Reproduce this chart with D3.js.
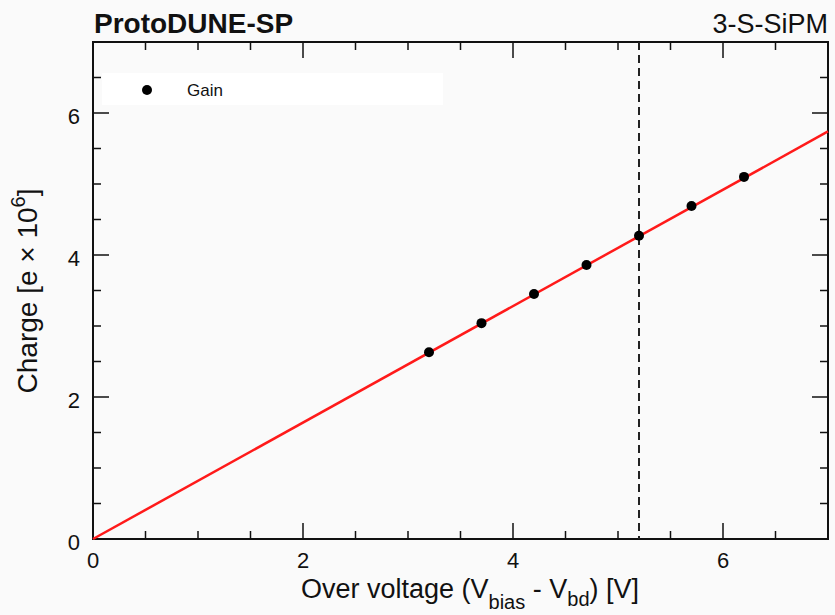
<!DOCTYPE html>
<html>
<head>
<meta charset="utf-8">
<script src="https://cdn.jsdelivr.net/npm/d3@7"></script>
<style>
  body { margin: 0; background: #fafafa; }
  svg { display: block; font-family: "Liberation Sans", Arial, sans-serif; }
</style>
</head>
<body>
<div id="chart"></div>
<script>
// Gain measurement points (over voltage in V, charge in 1e6 electrons)
const overVoltage = [3.2, 3.7, 4.2, 4.7, 5.2, 5.7, 6.2];
const charge = [2.63, 3.04, 3.45, 3.86, 4.27, 4.69, 5.10];

// Linear fit through origin, drawn across the axis range
const fitX = [0, 7];
const fitY = [0, 5.74];

// Operating point marker
const operatingVoltage = 5.2;

const xTicks = [0, 2, 4, 6];
const yTicks = [0, 2, 4, 6];

const CHART_CONFIG = {
  width: 835,
  height: 615,
  margin: { top: 42, right: 7, bottom: 76, left: 93 },
  majorTick: 16,
  minorTick: 8
};

const { width, height, margin } = CHART_CONFIG;
const chartWidth = width - margin.left - margin.right;
const chartHeight = height - margin.top - margin.bottom;

const svg = d3.select("#chart").append("svg")
  .attr("width", width)
  .attr("height", height);

svg.append("rect")
  .attr("width", width)
  .attr("height", height)
  .attr("fill", "#fafafa");

const g = svg.append("g")
  .attr("transform", `translate(${margin.left},${margin.top})`);

const xScale = d3.scaleLinear().domain([0, 7]).range([0, chartWidth]);
const yScale = d3.scaleLinear().domain([0, 7]).range([chartHeight, 0]);

// minor ticks every 0.5
const minorX = d3.range(0, 7.001, 0.5).filter(v => !xTicks.includes(v));
const minorY = d3.range(0, 7.001, 0.5).filter(v => !yTicks.includes(v));

const tickGroup = g.append("g").attr("stroke", "#111").attr("stroke-width", 1.5);

// bottom and top ticks
[[xTicks, CHART_CONFIG.majorTick], [minorX, CHART_CONFIG.minorTick]].forEach(([vals, len]) => {
  vals.forEach(v => {
    tickGroup.append("line")
      .attr("x1", xScale(v)).attr("x2", xScale(v))
      .attr("y1", chartHeight).attr("y2", chartHeight - len);
    tickGroup.append("line")
      .attr("x1", xScale(v)).attr("x2", xScale(v))
      .attr("y1", 0).attr("y2", len);
  });
});

// left and right ticks
[[yTicks, CHART_CONFIG.majorTick], [minorY, CHART_CONFIG.minorTick]].forEach(([vals, len]) => {
  vals.forEach(v => {
    tickGroup.append("line")
      .attr("x1", 0).attr("x2", len)
      .attr("y1", yScale(v)).attr("y2", yScale(v));
    tickGroup.append("line")
      .attr("x1", chartWidth).attr("x2", chartWidth - len)
      .attr("y1", yScale(v)).attr("y2", yScale(v));
  });
});

// frame
g.append("rect")
  .attr("width", chartWidth)
  .attr("height", chartHeight)
  .attr("fill", "none")
  .attr("stroke", "#111")
  .attr("stroke-width", 2);

// tick labels
g.selectAll(".x-label")
  .data(xTicks)
  .enter()
  .append("text")
  .attr("x", d => xScale(d))
  .attr("y", chartHeight + 29)
  .attr("text-anchor", "middle")
  .style("font-size", "22px")
  .attr("fill", "#111")
  .text(d => d);

g.selectAll(".y-label")
  .data(yTicks)
  .enter()
  .append("text")
  .attr("x", -13)
  .attr("y", d => yScale(d))
  .attr("dy", "0.5em")
  .attr("text-anchor", "end")
  .style("font-size", "22px")
  .attr("fill", "#111")
  .text(d => d);

// legend
const legend = g.append("g").attr("class", "legend");
legend.append("rect")
  .attr("x", 9).attr("y", 31)
  .attr("width", 341).attr("height", 32)
  .attr("fill", "#ffffff");
legend.append("circle")
  .attr("cx", 54).attr("cy", 48)
  .attr("r", 5)
  .attr("fill", "#000");
legend.append("text")
  .attr("x", 94).attr("y", 48)
  .attr("dy", "0.35em")
  .style("font-size", "17px")
  .attr("fill", "#111")
  .text("Gain");

// operating voltage dashed line
g.append("line")
  .attr("x1", xScale(operatingVoltage)).attr("x2", xScale(operatingVoltage))
  .attr("y1", 0).attr("y2", chartHeight)
  .attr("stroke", "#222")
  .attr("stroke-width", 2)
  .attr("stroke-dasharray", "8,5");

// fit line
const fitData = fitX.map((x, i) => ({ x, y: fitY[i] }));
g.append("path")
  .datum(fitData)
  .attr("fill", "none")
  .attr("stroke", "#ff1a1a")
  .attr("stroke-width", 2.5)
  .attr("d", d3.line().x(d => xScale(d.x)).y(d => yScale(d.y)));

// points
const points = overVoltage.map((x, i) => ({ x, y: charge[i] }));
g.selectAll(".point")
  .data(points)
  .enter()
  .append("circle")
  .attr("cx", d => xScale(d.x))
  .attr("cy", d => yScale(d.y))
  .attr("r", 5)
  .attr("fill", "#000");

// titles
svg.append("text")
  .attr("x", margin.left + 1)
  .attr("y", 33)
  .style("font-size", "28px")
  .style("font-weight", "bold")
  .attr("fill", "#111")
  .text("ProtoDUNE-SP");

svg.append("text")
  .attr("x", width - margin.right)
  .attr("y", 33)
  .attr("text-anchor", "end")
  .style("font-size", "27px")
  .attr("fill", "#111")
  .text("3-S-SiPM");

// axis titles
const xTitle = svg.append("text")
  .attr("x", 470)
  .attr("y", 598)
  .attr("text-anchor", "middle")
  .style("font-size", "27px")
  .attr("fill", "#111");
xTitle.append("tspan").text("Over voltage (V");
xTitle.append("tspan").attr("dy", 11).style("font-size", "20px").text("bias");
xTitle.append("tspan").attr("dy", -11).text(" - V");
xTitle.append("tspan").attr("dy", 8).style("font-size", "20px").text("bd");
xTitle.append("tspan").attr("dy", -8).text(") [V]");

const yTitle = svg.append("text")
  .attr("transform", `translate(37, 291) rotate(-90)`)
  .attr("text-anchor", "middle")
  .style("font-size", "28px")
  .attr("fill", "#111");
yTitle.append("tspan").text("Charge [e \u00d7 10");
yTitle.append("tspan").attr("dy", -12).style("font-size", "20px").text("6");
yTitle.append("tspan").attr("dy", 12).text("]");
</script>
</body>
</html>
